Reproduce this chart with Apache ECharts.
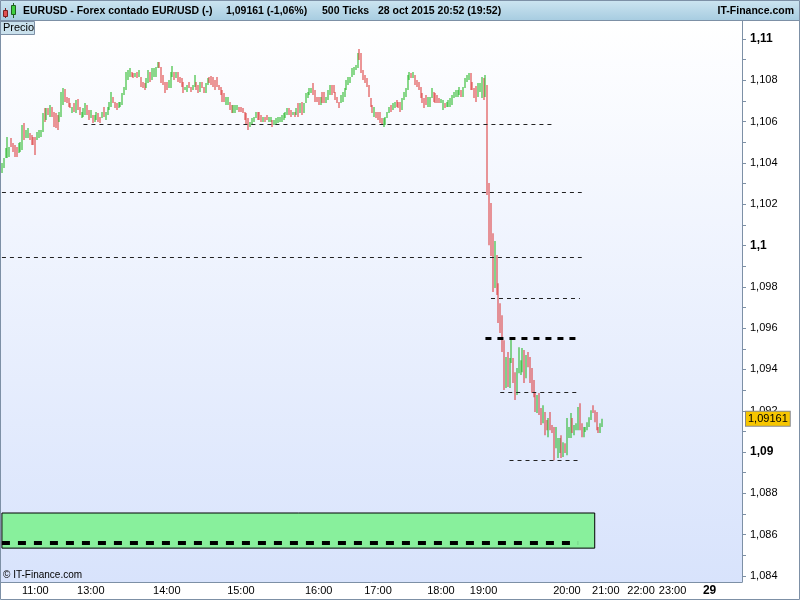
<!DOCTYPE html>
<html>
<head>
<meta charset="utf-8">
<script src="https://cdn.jsdelivr.net/npm/echarts@6/dist/echarts.min.js"></script>
<style>
  html, body { margin: 0; padding: 0; background: #fff; }
  #chart { width: 800px; height: 600px; }
</style>
</head>
<body>
<div id="chart"></div>
<script>
// header texts
const headerTitle = 'EURUSD - Forex contado EUR/USD (-)'
const headerQuote = '1,09161 (-1,06%)'
const headerTicks = '500 Ticks'
const headerDate = '28 oct 2015 20:52 (19:52)'
const brandName = 'IT-Finance.com'

// 500-tick bars, high / low, g = up bar, r = down bar
const barHigh = [
  // 11:00 - 14:30
  1.10400, 1.10424, 1.10472, 1.10525, 1.10477, 1.10521, 1.10496, 1.10487, 1.10477, 1.10496,
  1.10501, 1.10584, 1.10593, 1.10559, 1.10569, 1.10545, 1.10535, 1.10525, 1.10525, 1.10550,
  1.10559, 1.10559, 1.10642, 1.10666, 1.10666, 1.10666, 1.10680, 1.10671, 1.10646, 1.10642,
  1.10632, 1.10646, 1.10743, 1.10763, 1.10758, 1.10719, 1.10714, 1.10690, 1.10671, 1.10690,
  1.10705, 1.10710, 1.10671, 1.10646, 1.10666, 1.10690, 1.10680, 1.10656, 1.10656, 1.10632,
  1.10632, 1.10646, 1.10642, 1.10622, 1.10646, 1.10671, 1.10646, 1.10671, 1.10695, 1.10743,
  1.10719, 1.10695, 1.10690, 1.10695, 1.10695, 1.10738, 1.10768, 1.10840, 1.10850, 1.10860,
  1.10840, 1.10835, 1.10835, 1.10840, 1.10850, 1.10816, 1.10792, 1.10787, 1.10811, 1.10850,
  1.10840, 1.10860, 1.10860, 1.10864, 1.10889, 1.10889, 1.10864, 1.10826, 1.10792, 1.10792,
  1.10801, 1.10840, 1.10869, 1.10840, 1.10840, 1.10840, 1.10816, 1.10811, 1.10792, 1.10768,
  1.10777, 1.10792,
  // 14:30 - 17:30
  1.10768, 1.10777, 1.10826, 1.10792, 1.10777, 1.10792, 1.10792, 1.10768, 1.10787, 1.10811,
  1.10816, 1.10821, 1.10816, 1.10801, 1.10816, 1.10777, 1.10768, 1.10753, 1.10738, 1.10719,
  1.10719, 1.10695, 1.10680, 1.10680, 1.10680, 1.10680, 1.10671, 1.10671, 1.10666, 1.10646,
  1.10642, 1.10617, 1.10598, 1.10617, 1.10622, 1.10646, 1.10646, 1.10646, 1.10632, 1.10622,
  1.10622, 1.10632, 1.10622, 1.10622, 1.10608, 1.10608, 1.10617, 1.10622, 1.10622, 1.10632,
  1.10642, 1.10646, 1.10666, 1.10666, 1.10656, 1.10646, 1.10646, 1.10666, 1.10690, 1.10690,
  1.10695, 1.10690, 1.10738, 1.10743, 1.10763, 1.10763, 1.10787, 1.10753, 1.10719, 1.10719,
  1.10719, 1.10743, 1.10743, 1.10719, 1.10753, 1.10777, 1.10777, 1.10777, 1.10743, 1.10719,
  1.10695, 1.10729, 1.10743, 1.10763, 1.10801, 1.10816, 1.10816, 1.10860, 1.10864, 1.10874,
  1.10932, 1.10952, 1.10932, 1.10850, 1.10826, 1.10811, 1.10777, 1.10714, 1.10680, 1.10671,
  1.10646, 1.10646, 1.10646, 1.10617, 1.10617, 1.10622, 1.10646, 1.10671, 1.10680, 1.10690,
  1.10695, 1.10705, 1.10695, 1.10695,
  // 17:30 - 20:52
  1.10714, 1.10743, 1.10763, 1.10826, 1.10840, 1.10835, 1.10840, 1.10826, 1.10801, 1.10792,
  1.10768, 1.10738, 1.10714, 1.10729, 1.10719, 1.10719, 1.10763, 1.10743, 1.10738, 1.10729,
  1.10714, 1.10710, 1.10705, 1.10690, 1.10695, 1.10705, 1.10714, 1.10729, 1.10743, 1.10753,
  1.10753, 1.10768, 1.10753, 1.10768, 1.10811, 1.10826, 1.10835, 1.10835, 1.10792, 1.10763,
  1.10772, 1.10787, 1.10787, 1.10816, 1.10811, 1.10826, 1.10777, 1.10303, 1.10206, 1.10060,
  1.10022, 1.09954, 1.09818, 1.09721, 1.09663, 1.09542, 1.09460, 1.09484, 1.09455, 1.09552,
  1.09455, 1.09387, 1.09407, 1.09508, 1.09445, 1.09504, 1.09494, 1.09470, 1.09484, 1.09460,
  1.09407, 1.09349, 1.09290, 1.09276, 1.09286, 1.09213, 1.09227, 1.09194, 1.09155, 1.09165,
  1.09194, 1.09131, 1.09121, 1.09121, 1.09068, 1.09068, 1.09082, 1.09048, 1.09043, 1.09165,
  1.09121, 1.09189, 1.09165, 1.09131, 1.09140, 1.09218, 1.09237, 1.09140, 1.09121, 1.09121,
  1.09145, 1.09169, 1.09203, 1.09227, 1.09203, 1.09194, 1.09121, 1.09140, 1.09161
]

const barLow = [
  1.10351, 1.10375, 1.10424, 1.10424, 1.10429, 1.10477, 1.10453, 1.10429, 1.10429, 1.10448,
  1.10453, 1.10462, 1.10511, 1.10521, 1.10521, 1.10511, 1.10487, 1.10487, 1.10438, 1.10511,
  1.10521, 1.10525, 1.10550, 1.10598, 1.10608, 1.10632, 1.10622, 1.10622, 1.10574, 1.10569,
  1.10559, 1.10598, 1.10622, 1.10680, 1.10695, 1.10690, 1.10671, 1.10666, 1.10642, 1.10646,
  1.10642, 1.10656, 1.10632, 1.10617, 1.10622, 1.10632, 1.10632, 1.10608, 1.10617, 1.10593,
  1.10598, 1.10608, 1.10598, 1.10593, 1.10617, 1.10622, 1.10608, 1.10632, 1.10656, 1.10671,
  1.10690, 1.10666, 1.10656, 1.10666, 1.10671, 1.10680, 1.10729, 1.10753, 1.10801, 1.10816,
  1.10816, 1.10811, 1.10816, 1.10811, 1.10816, 1.10768, 1.10763, 1.10753, 1.10763, 1.10787,
  1.10792, 1.10801, 1.10816, 1.10816, 1.10860, 1.10860, 1.10787, 1.10777, 1.10738, 1.10753,
  1.10763, 1.10763, 1.10816, 1.10801, 1.10811, 1.10792, 1.10787, 1.10768, 1.10738, 1.10753,
  1.10743, 1.10763,

  1.10743, 1.10753, 1.10768, 1.10753, 1.10738, 1.10743, 1.10763, 1.10738, 1.10738, 1.10777,
  1.10787, 1.10777, 1.10768, 1.10753, 1.10768, 1.10753, 1.10729, 1.10695, 1.10695, 1.10680,
  1.10680, 1.10656, 1.10642, 1.10642, 1.10642, 1.10656, 1.10646, 1.10646, 1.10642, 1.10608,
  1.10584, 1.10559, 1.10574, 1.10584, 1.10598, 1.10617, 1.10608, 1.10608, 1.10598, 1.10598,
  1.10598, 1.10608, 1.10598, 1.10598, 1.10574, 1.10584, 1.10584, 1.10593, 1.10598, 1.10598,
  1.10608, 1.10617, 1.10632, 1.10632, 1.10622, 1.10632, 1.10622, 1.10632, 1.10622, 1.10642,
  1.10632, 1.10642, 1.10690, 1.10714, 1.10729, 1.10738, 1.10729, 1.10695, 1.10695, 1.10680,
  1.10680, 1.10690, 1.10690, 1.10690, 1.10705, 1.10729, 1.10729, 1.10738, 1.10705, 1.10690,
  1.10666, 1.10690, 1.10695, 1.10719, 1.10753, 1.10777, 1.10787, 1.10816, 1.10826, 1.10850,
  1.10860, 1.10898, 1.10835, 1.10801, 1.10787, 1.10768, 1.10719, 1.10671, 1.10642, 1.10622,
  1.10617, 1.10608, 1.10593, 1.10584, 1.10574, 1.10584, 1.10617, 1.10642, 1.10646, 1.10656,
  1.10666, 1.10671, 1.10666, 1.10646,

  1.10656, 1.10705, 1.10719, 1.10753, 1.10801, 1.10811, 1.10811, 1.10777, 1.10768, 1.10753,
  1.10714, 1.10690, 1.10666, 1.10680, 1.10671, 1.10671, 1.10714, 1.10695, 1.10690, 1.10690,
  1.10690, 1.10690, 1.10656, 1.10666, 1.10671, 1.10671, 1.10671, 1.10680, 1.10714, 1.10719,
  1.10719, 1.10729, 1.10719, 1.10719, 1.10763, 1.10792, 1.10801, 1.10753, 1.10753, 1.10714,
  1.10695, 1.10719, 1.10743, 1.10714, 1.10705, 1.10719, 1.10245, 1.10002, 1.09949, 1.09775,
  1.09794, 1.09760, 1.09625, 1.09576, 1.09484, 1.09300, 1.09310, 1.09315, 1.09310, 1.09431,
  1.09334, 1.09252, 1.09276, 1.09382, 1.09373, 1.09387, 1.09334, 1.09358, 1.09411, 1.09334,
  1.09286, 1.09266, 1.09194, 1.09189, 1.09179, 1.09131, 1.09140, 1.09082, 1.09106, 1.09072,
  1.09106, 1.09092, 1.08961, 1.09019, 1.08971, 1.08995, 1.08971, 1.08976, 1.08995, 1.08985,
  1.09068, 1.09068, 1.09092, 1.09082, 1.09106, 1.09106, 1.09106, 1.09072, 1.09072, 1.09097,
  1.09106, 1.09121, 1.09155, 1.09189, 1.09145, 1.09106, 1.09092, 1.09092, 1.09121
]

const barDir = [
  'gggggrrrrg', 'ggrggrrrrg', 'gggrgrgrrr', 'rgggrrrrgr', 'grrgggrrgr', 'ggrrgrgggg',
  'rrrggggggg', 'rrgrgrrrgg', 'rggggrrrrr', 'gggrgrrrrg', 'gr',
  'rggrrgrrgg', 'rrrrrrrrrg', 'grrgggrrrr', 'rrggggrrrg', 'rrggrggggg', 'gggrrgrgrg',
  'rgggggrrrr', 'grrgggrrrr', 'rggggggggg', 'grrrrrrrrg', 'rrrrggggrg', 'grrr',
  'gggggrgrrr', 'rrrrgggrrr', 'rggrgggggg', 'ggrggggrrr', 'rgggrgrrrr', 'grrrrrgrgg',
  'rrggggrgrr', 'rrrgrrgrrg', 'rrrgggrgrg', 'ggrgggrrgg', 'gggrrrrgg'
].join('')

// x axis: bar slots, incl. the empty space to the right
const slotCount = 400
const tickIndex = [18, 48, 89, 129, 171, 203, 237, 260, 305, 326, 345, 362, 382]
const tickText = ['11:00', '13:00', '14:00', '15:00', '16:00', '17:00', '18:00', '19:00',
  '20:00', '21:00', '22:00', '23:00', '29']

// y axis
const yMin = 1.08371
const yMax = 1.11092
const yLabelValues = [1.084, 1.086, 1.088, 1.09, 1.092, 1.094, 1.096, 1.098, 1.1, 1.102,
  1.104, 1.106, 1.108, 1.11]
const yTickValues = [1.084, 1.085, 1.086, 1.087, 1.088, 1.089, 1.09, 1.091, 1.092, 1.093,
  1.094, 1.095, 1.096, 1.097, 1.098, 1.099, 1.1, 1.101, 1.102, 1.103, 1.104, 1.105, 1.106,
  1.107, 1.108, 1.109, 1.11]
const lastPrice = 1.09161

// dashed support / resistance lines
const levelPrice = [1.10585, 1.10259, 1.09944, 1.09746, 1.09552, 1.09291, 1.08961, 1.08559]
const levelFrom = [44, 0, 0, 264, 261, 269, 274, 0]
const levelTo = [297, 313, 313, 312, 310, 311, 311, 311]
const levelHeavy = [0, 0, 0, 0, 1, 0, 0, 2]

// green zone
const zoneTop = 1.08705
const zoneBottom = 1.08535
const zoneFrom = 0
const zoneTo = 320

const upColor = '#18b418'
const downColor = '#dc3030'
const frameColor = '#7d90a6'
const font = '"Liberation Sans", Arial, sans-serif'

const categories = []
for (let i = 0; i < slotCount; i++) categories.push('')
tickIndex.forEach((k, j) => { categories[k] = tickText[j] })

const candles = barHigh.map((h, i) => {
  const l = barLow[i]
  return barDir[i] === 'g' ? [l, h, l, h] : [h, l, l, h]
})

const levelLines = levelPrice.map((p, i) => {
  let style = { color: '#222', width: 1, type: [4, 4] }
  if (levelHeavy[i] === 1) style = { color: '#000', width: 3, type: [6, 6] }
  if (levelHeavy[i] === 2) style = { color: '#000', width: 4, type: [8, 8] }
  return [{ coord: [levelFrom[i], p], lineStyle: style }, { coord: [levelTo[i], p] }]
})
levelLines.push({
  yAxis: lastPrice,
  lineStyle: { color: 'rgba(0,0,0,0)', width: 1, type: 'solid' },
  label: {
    show: true,
    position: 'end',
    distance: 4,
    formatter: String(lastPrice).replace('.', ','),
    color: '#000',
    fontSize: 11,
    fontFamily: font,
    backgroundColor: '#f7c600',
    borderColor: '#8a8a8a',
    borderWidth: 1,
    padding: [2, 2, 1, 2]
  }
})

const showSlot = (index, value) => value !== ''

const chart = echarts.init(document.getElementById('chart'))
chart.setOption({
  animation: false,
  textStyle: { fontFamily: font },
  grid: {
    left: 1,
    right: 58,
    top: 20,
    bottom: 18,
    containLabel: false,
    outerBoundsMode: 'none',
    show: true,
    borderWidth: 0,
    backgroundColor: new echarts.graphic.LinearGradient(0, 0, 0, 1, [
      { offset: 0, color: '#ffffff' },
      { offset: 1, color: '#d8e3fc' }
    ])
  },
  xAxis: {
    type: 'category',
    data: categories,
    boundaryGap: true,
    axisLine: { lineStyle: { color: frameColor, width: 1 } },
    axisTick: { alignWithLabel: true, interval: showSlot, length: 4, lineStyle: { color: frameColor } },
    axisLabel: {
      interval: showSlot,
      margin: 3,
      fontSize: 11,
      color: '#000',
      formatter: v => v === '29' ? '{b|29}' : v,
      rich: { b: { fontWeight: 'bold', fontSize: 12, color: '#000' } }
    },
    splitLine: { show: false }
  },
  yAxis: {
    type: 'value',
    position: 'right',
    min: yMin,
    max: yMax,
    axisLine: { show: true, lineStyle: { color: frameColor, width: 1 } },
    axisTick: { show: true, length: 4, customValues: yTickValues, lineStyle: { color: frameColor } },
    axisLabel: {
      customValues: yLabelValues,
      margin: 8,
      fontSize: 11,
      color: '#000',
      formatter: v => {
        const s = String(+v.toFixed(3)).replace('.', ',')
        const hundredth = Math.abs(v * 100 - Math.round(v * 100)) < 1e-6
        return hundredth ? '{b|' + s + '}' : s
      },
      rich: { b: { fontWeight: 'bold', fontSize: 12, color: '#000' } }
    },
    splitLine: { show: false }
  },
  series: [{
    type: 'candlestick',
    data: candles,
    barWidth: 1.5,
    itemStyle: {
      color: upColor,
      color0: downColor,
      borderColor: upColor,
      borderColor0: downColor,
      borderWidth: 0,
      opacity: 1
    },
    emphasis: { disabled: true },
    markArea: {
      silent: true,
      itemStyle: { color: '#88f09c', opacity: 1, borderColor: '#000', borderWidth: 1 },
      label: { show: false },
      data: [[{ coord: [zoneFrom, zoneTop] }, { coord: [zoneTo, zoneBottom] }]]
    },
    markLine: {
      silent: true,
      precision: 5,
      symbol: ['none', 'none'],
      label: { show: false },
      emphasis: { disabled: true },
      data: levelLines
    }
  }],
  graphic: [
    {
      type: 'rect', z: 100,
      shape: { x: 0, y: 0, width: 800, height: 20 },
      style: {
        fill: new echarts.graphic.LinearGradient(0, 0, 0, 1, [
          { offset: 0, color: '#cde5f1' },
          { offset: 1, color: '#a8cde1' }
        ])
      }
    },
    { type: 'line', z: 100, shape: { x1: 0, y1: 20.5, x2: 800, y2: 20.5 }, style: { stroke: frameColor, lineWidth: 1 } },
    // candle icon
    { type: 'line', z: 101, shape: { x1: 5.5, y1: 8, x2: 5.5, y2: 18 }, style: { stroke: '#7a2020', lineWidth: 1 } },
    { type: 'rect', z: 102, shape: { x: 3.5, y: 10.5, width: 4, height: 6 }, style: { fill: '#e05050', stroke: '#7a2020', lineWidth: 1 } },
    { type: 'line', z: 101, shape: { x1: 13.5, y1: 3, x2: 13.5, y2: 18 }, style: { stroke: '#206020', lineWidth: 1 } },
    { type: 'rect', z: 102, shape: { x: 11.5, y: 5.5, width: 4, height: 9 }, style: { fill: '#40d040', stroke: '#206020', lineWidth: 1 } },
    { type: 'text', z: 103, x: 23, y: 11, style: { text: headerTitle, font: 'bold 10.5px ' + font, fill: '#000', verticalAlign: 'middle' } },
    { type: 'text', z: 103, x: 226, y: 11, style: { text: headerQuote, font: 'bold 10.5px ' + font, fill: '#000', verticalAlign: 'middle' } },
    { type: 'text', z: 103, x: 322, y: 11, style: { text: headerTicks, font: 'bold 10.5px ' + font, fill: '#000', verticalAlign: 'middle' } },
    { type: 'text', z: 103, x: 378, y: 11, style: { text: headerDate, font: 'bold 10.5px ' + font, fill: '#000', verticalAlign: 'middle' } },
    { type: 'text', z: 103, x: 794, y: 11, style: { text: brandName, font: 'bold 10.5px ' + font, fill: '#000', align: 'right', verticalAlign: 'middle' } },
    // series label box
    { type: 'rect', z: 100, shape: { x: 0.5, y: 21.5, width: 34, height: 13 }, style: { fill: '#c9e0ec', stroke: frameColor, lineWidth: 1 } },
    { type: 'text', z: 101, x: 3, y: 28, style: { text: 'Precio', font: '11px ' + font, fill: '#000', verticalAlign: 'middle' } },
    { type: 'text', z: 101, x: 3, y: 575, style: { text: '\u00a9 ' + brandName, font: '10px ' + font, fill: '#000', verticalAlign: 'middle' } },
    // outer frame
    { type: 'rect', z: 110, shape: { x: 0.5, y: 0.5, width: 799, height: 599 }, style: { fill: 'none', stroke: frameColor, lineWidth: 1 } }
  ]
})
</script>
</body>
</html>
